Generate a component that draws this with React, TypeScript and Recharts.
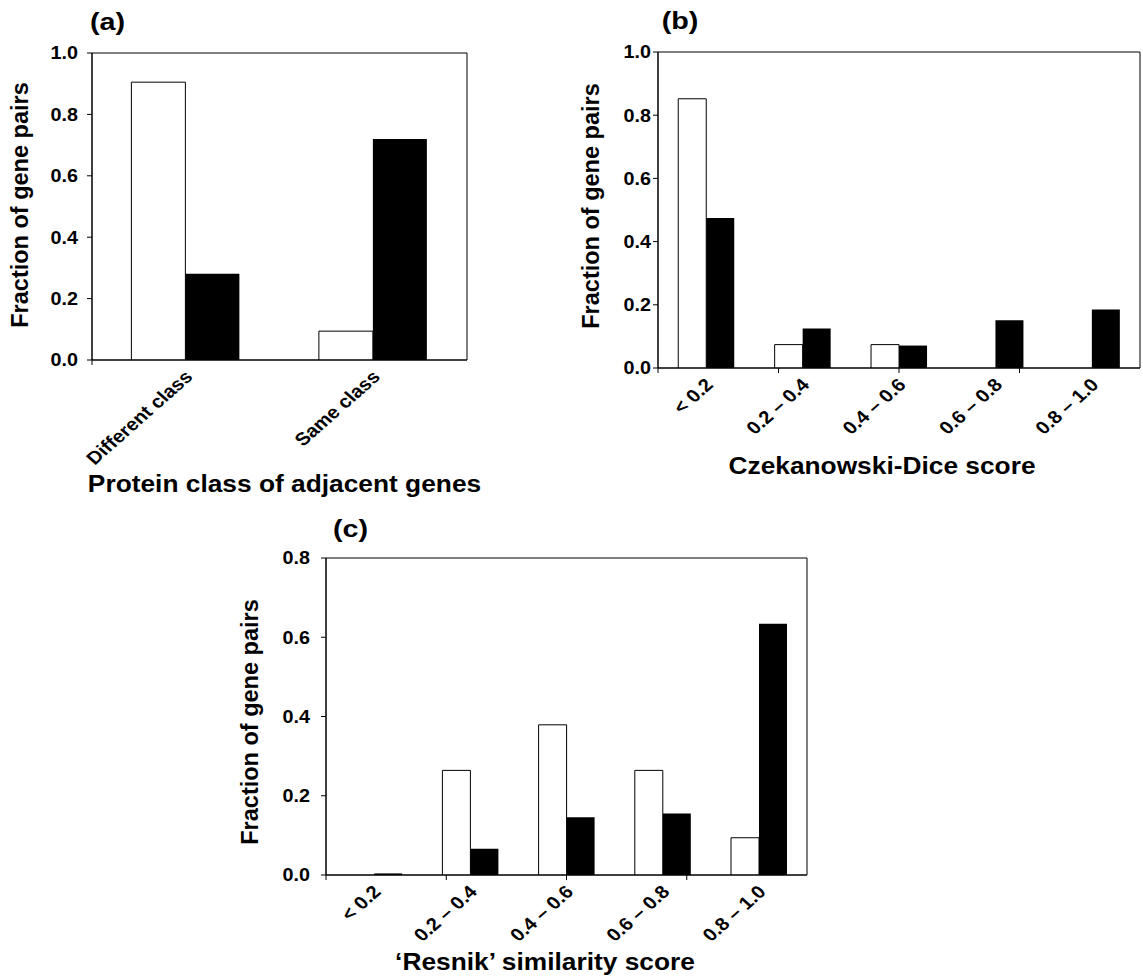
import { BarChart, Bar, XAxis, YAxis, ReferenceArea } from 'recharts'

const FONT = '"Liberation Sans", Arial, Helvetica, sans-serif'
const STRETCH = 1.13

// panel (a): protein class of adjacent genes
const classCategories = ['Different class', 'Same class']
const classOpen = [0.905, 0.094]
const classFilled = [0.281, 0.72]

// panels (b) and (c) share the score bins
const scoreBins = ['< 0.2', '0.2 – 0.4', '0.4 – 0.6', '0.6 – 0.8', '0.8 – 1.0']
const diceOpen = [0.852, 0.074, 0.074, 0, 0]
const diceFilled = [0.475, 0.125, 0.071, 0.151, 0.185]
const resnikOpen = [0, 0.264, 0.379, 0.264, 0.094]
const resnikFilled = [0.004, 0.066, 0.146, 0.155, 0.634]

const yTicksUnit = [0, 0.2, 0.4, 0.6, 0.8, 1.0]
const yTicksResnik = [0, 0.2, 0.4, 0.6, 0.8]

function NoTick() {
  return null
}

function SlantedTick({ x, y, payload }: any) {
  const ax = x + 8
  const ay = y + 17
  return (
    <text
      x={0}
      y={0}
      transform={`translate(${ax} ${ay}) scale(${STRETCH} 1) rotate(-45)`}
      textAnchor="end"
      fontFamily={FONT}
      fontWeight="bold"
      fontSize={18}
      fill="#000"
    >
      {payload.value}
    </text>
  )
}

function ValueTick({ x, y, payload }: any) {
  return (
    <text
      x={0}
      y={0}
      dy="0.36em"
      transform={`translate(${x} ${y}) scale(${STRETCH} 1)`}
      textAnchor="end"
      fontFamily={FONT}
      fontWeight="bold"
      fontSize={17.5}
      fill="#000"
    >
      {Number(payload.value).toFixed(1)}
    </text>
  )
}

interface PanelProps {
  categories: string[]
  open: number[]
  filled: number[]
  yMax: number
  yTicks: number[]
  left: number
  top: number
  width: number
  height: number
  margin: { top: number; right: number; bottom: number; left: number }
  yAxisWidth: number
  tickMargin: number
}

function Panel(p: PanelProps) {
  const data = p.categories.map((c, i) => ({ name: c, open: p.open[i], filled: p.filled[i] }))
  const edges = p.categories.map((_, i) => i).concat(p.categories.length)
  return (
    <div style={{ position: 'absolute', left: p.left, top: p.top }}>
      <BarChart
        width={p.width}
        height={p.height}
        data={data}
        margin={p.margin}
        barCategoryGap="21%"
        barGap={0}
      >
        <XAxis
          xAxisId="b_labels"
          dataKey="name"
          height={60}
          axisLine={false}
          tickLine={false}
          tickSize={0}
          tickMargin={0}
          interval={0}
          tick={<SlantedTick />}
        />
        <XAxis
          xAxisId="a_edges"
          type="number"
          domain={[0, p.categories.length]}
          ticks={edges}
          allowDataOverflow
          height={1}
          tick={<NoTick />}
          tickSize={5}
          stroke="#000"
        />
        <YAxis
          domain={[0, p.yMax]}
          ticks={p.yTicks}
          allowDataOverflow
          width={p.yAxisWidth}
          tickSize={5}
          tickMargin={p.tickMargin}
          stroke="#000"
          tick={<ValueTick />}
        />
        <ReferenceArea
          xAxisId="b_labels"
          y1={0}
          y2={p.yMax}
          fill="none"
          stroke="#000"
          strokeWidth={1}
          ifOverflow="visible"
        />
        <Bar xAxisId="b_labels" dataKey="open" fill="#fff" stroke="#000" strokeWidth={1} isAnimationActive={false} />
        <Bar xAxisId="b_labels" dataKey="filled" fill="#000" isAnimationActive={false} />
      </BarChart>
    </div>
  )
}

function Caption({ x, y, text, size, stretch = 1 }: { x: number; y: number; text: string; size: number; stretch?: number }) {
  return (
    <text
      x={0}
      y={0}
      textAnchor="middle"
      fontFamily={FONT}
      fontWeight="bold"
      fontSize={size}
      fill="#000"
      transform={`translate(${x} ${y}) scale(${stretch} 1)`}
    >
      {text}
    </text>
  )
}

function YTitle({ x, y }: { x: number; y: number }) {
  return (
    <text
      x={x}
      y={y}
      textAnchor="middle"
      fontFamily={FONT}
      fontWeight="bold"
      fontSize={23.5}
      fill="#000"
      transform={`rotate(-90, ${x}, ${y})`}
    >
      Fraction of gene pairs
    </text>
  )
}

export default function App() {
  return (
    <div style={{ position: 'absolute', left: 0, top: 0, width: 1143, height: 976, background: '#fff', overflow: 'hidden' }}>
      <Panel
        categories={classCategories}
        open={classOpen}
        filled={classFilled}
        yMax={1}
        yTicks={yTicksUnit}
        left={0}
        top={0}
        width={480}
        height={480}
        margin={{ top: 53, right: 13, bottom: 59, left: 0 }}
        yAxisWidth={92}
        tickMargin={9}
      />
      <Panel
        categories={scoreBins}
        open={diceOpen}
        filled={diceFilled}
        yMax={1}
        yTicks={yTicksUnit}
        left={560}
        top={0}
        width={583}
        height={480}
        margin={{ top: 52, right: 3, bottom: 51, left: 0 }}
        yAxisWidth={98}
        tickMargin={2}
      />
      <Panel
        categories={scoreBins}
        open={resnikOpen}
        filled={resnikFilled}
        yMax={0.8}
        yTicks={yTicksResnik}
        left={230}
        top={500}
        width={587}
        height={476}
        margin={{ top: 58, right: 10, bottom: 40, left: 0 }}
        yAxisWidth={96}
        tickMargin={11}
      />
      <svg
        width={1143}
        height={976}
        style={{ position: 'absolute', left: 0, top: 0, pointerEvents: 'none' }}
      >
        <Caption x={107.5} y={30} text="(a)" size={23} stretch={1.25} />
        <Caption x={680} y={28.5} text="(b)" size={23} stretch={1.25} />
        <Caption x={350.5} y={537} text="(c)" size={23} stretch={1.25} />
        <YTitle x={28} y={205} />
        <YTitle x={599} y={206} />
        <YTitle x={258} y={722} />
        <Caption x={284.5} y={492} text="Protein class of adjacent genes" size={23.5} stretch={1.12} />
        <Caption x={882} y={474} text="Czekanowski-Dice score" size={23.5} stretch={1.12} />
        <Caption x={545} y={970} text="‘Resnik’ similarity score" size={23.5} stretch={1.12} />
      </svg>
    </div>
  )
}
